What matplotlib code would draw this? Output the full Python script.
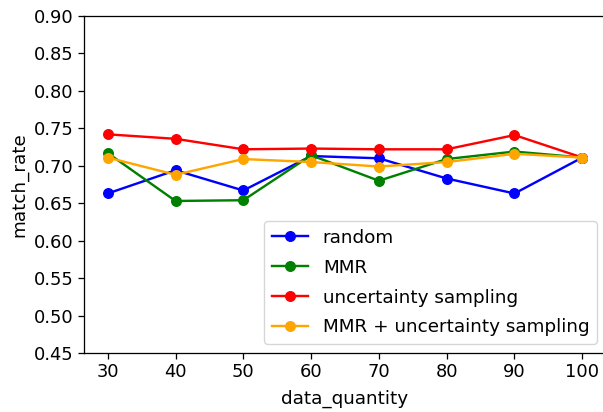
import matplotlib
matplotlib.use("Agg")
import matplotlib.pyplot as plt

data_quantity = [30, 40, 50, 60, 70, 80, 90, 100]
random_rate = [0.663, 0.694, 0.667, 0.713, 0.710, 0.683, 0.663, 0.711]
mmr_rate = [0.717, 0.653, 0.654, 0.714, 0.680, 0.709, 0.719, 0.711]
uncertainty_rate = [0.742, 0.736, 0.722, 0.723, 0.722, 0.722, 0.741, 0.711]
mmr_uncertainty_rate = [0.711, 0.688, 0.709, 0.705, 0.699, 0.705, 0.716, 0.711]

scale = 1.15
plt.rcParams["font.size"] = 13.2
plt.rcParams["xtick.labelsize"] = 12.9
plt.rcParams["ytick.labelsize"] = 12.9
plt.rcParams["axes.linewidth"] = 0.8 * scale
plt.rcParams["xtick.major.size"] = 3.5 * scale
plt.rcParams["ytick.major.size"] = 3.5 * scale
plt.rcParams["xtick.major.width"] = 0.8 * scale
plt.rcParams["ytick.major.width"] = 0.8 * scale

fig = plt.figure(figsize=(6.03, 4.12), dpi=100)
ax = fig.add_axes([84 / 603, 59 / 412, 522 / 603, 337 / 412])

series = [
    (random_rate, "blue", "random"),
    (mmr_rate, "green", "MMR"),
    (uncertainty_rate, "red", "uncertainty sampling"),
    (mmr_uncertainty_rate, "orange", "MMR + uncertainty sampling"),
]
for values, color, label in series:
    ax.plot(data_quantity, values, "o-", color=color, label=label,
            linewidth=1.5 * scale, markersize=6 * scale)

ax.set_ylim(0.45, 0.90)
ax.set_yticks([0.45 + 0.05 * i for i in range(10)])
ax.set_xticks(data_quantity)
ax.set_xlabel("data_quantity", labelpad=6)
ax.set_ylabel("match_rate")
ax.legend(loc="lower right", labelspacing=0.65)

fig.savefig("out.png", dpi=100)
